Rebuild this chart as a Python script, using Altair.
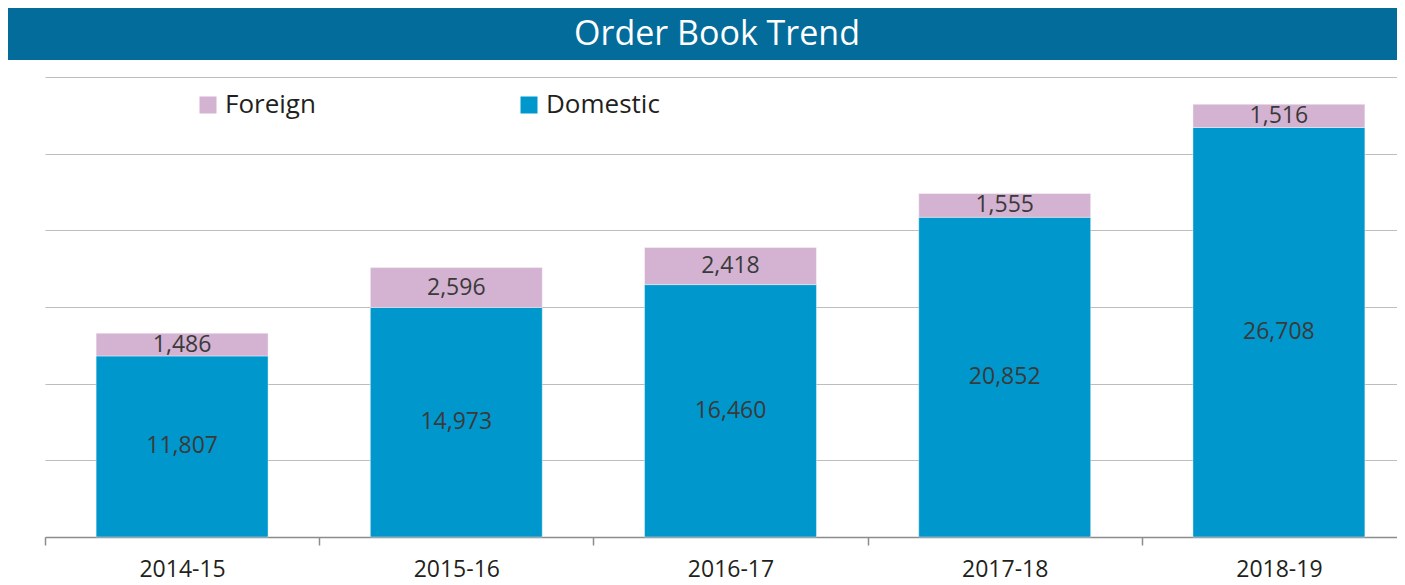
import altair as alt
import pandas as pd

years = ["2014-15", "2015-16", "2016-17", "2017-18", "2018-19"]
domestic = [11807, 14973, 16460, 20852, 26708]
foreign = [1486, 2596, 2418, 1555, 1516]
series = ["Foreign", "Domestic"]
colors = ["#D3B3D1", "#0097CD"]
y_ticks = [0, 5000, 10000, 15000, 20000, 25000, 30000]

rows = []
for i, yr in enumerate(years):
    rows.append({"year": yr, "type": "Domestic", "value": domestic[i], "order": 0})
    rows.append({"year": yr, "type": "Foreign", "value": foreign[i], "order": 1})
df = pd.DataFrame(rows)

FONT = "Open Sans"
W = 1352
H = 460

base = alt.Chart(df).transform_stack(
    stack="value", as_=["y0", "y1"], groupby=["year"],
    sort=[alt.SortField("order", order="ascending")]
).transform_calculate(mid="(datum.y0 + datum.y1) / 2")

xenc = alt.X(
    "year:N", sort=years, title=None,
    scale=alt.Scale(range=[0, 1371], paddingInner=0, paddingOuter=0),
    axis=alt.Axis(
        labelAngle=0, labelFont=FONT, labelFontSize=23, labelColor="#231F20",
        domainColor="#8C8C8C", domainWidth=1.5, tickColor="#8C8C8C", tickWidth=1.5,
        tickSize=8, tickBand="extent", labelPadding=13, grid=False,
    ),
)

bars = base.mark_bar(
    stroke="#FFFFFF", strokeWidth=0.4, width=alt.RelativeBandSize(0.627)
).encode(
    x=xenc,
    y=alt.Y(
        "y0:Q", title=None,
        scale=alt.Scale(domain=[0, 30000], nice=False),
        axis=alt.Axis(values=y_ticks, labels=False, ticks=False, domain=False,
                      grid=True, gridColor="#BDBDBD", gridWidth=1),
    ),
    y2="y1:Q",
    color=alt.Color(
        "type:N",
        scale=alt.Scale(domain=series, range=colors),
        legend=alt.Legend(
            title=None, orient="none", legendX=150, legendY=15,
            direction="horizontal", columns=2, columnPadding=200,
            symbolType="square", symbolSize=289, symbolStrokeWidth=0,
            symbolOpacity=1, labelFont=FONT, labelFontSize=26,
            labelColor="#231F20", labelOffset=4, padding=0,
        ),
    ),
)

labels = base.mark_text(
    font=FONT, fontSize=23, color="#3A3A3A", baseline="middle", align="center"
).encode(
    x=alt.X("year:N", sort=years),
    y=alt.Y("mid:Q"),
    text=alt.Text("value:Q", format=",d"),
)

banner = alt.Chart(alt.Data(values=[{}])).mark_rect(color="#036C9A").encode(
    x=alt.value(-37), x2=alt.value(1360), y=alt.value(-69), y2=alt.value(-17)
)

banner_text = alt.Chart(alt.Data(values=[{}])).mark_text(
    text="Order Book Trend", font=FONT, fontSize=34, color="#FFFFFF",
    align="center", baseline="alphabetic"
).encode(x=alt.value(672), y=alt.value(-32))

chart = alt.layer(banner, banner_text, bars, labels).properties(
    width=W, height=H,
    autosize=alt.AutoSizeParams(type="none"),
    padding={"left": 37, "top": 69, "right": 0, "bottom": 52},
).configure_view(stroke=None)

chart.save("out.html", embed_options={"renderer": "svg", "actions": False})
